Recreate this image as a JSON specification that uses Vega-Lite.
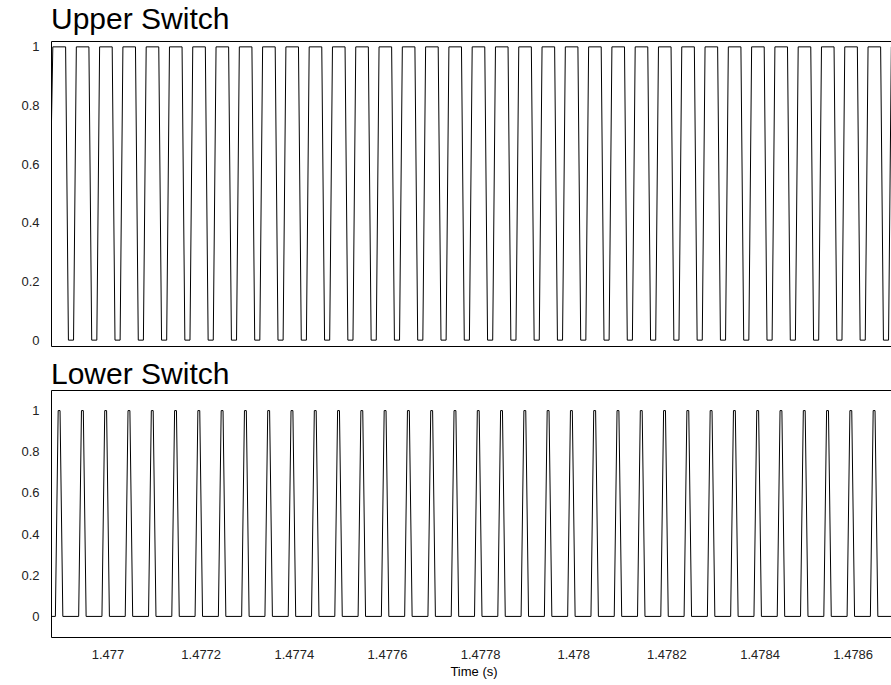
{
"$schema": "https://vega.github.io/schema/vega-lite/v6.json",
"padding": {"left": 5, "top": 4, "right": 0, "bottom": 0},
"spacing": 11,
"config": {
"font": "Liberation Sans",
"view": {"stroke": "#000", "strokeWidth": 1},
"title": {"fontSize": 30, "fontWeight": "normal", "anchor": "start", "frame": "group", "color": "#000", "font": "Liberation Sans", "baseline": "alphabetic"},
"axis": {"grid": false, "domain": false, "ticks": false, "labelFontSize": 13, "labelColor": "#222", "labelPadding": 12, "titleFontWeight": "normal", "titleFontSize": 13, "titleColor": "#000", "labelFont": "Liberation Sans", "titleFont": "Liberation Sans"}
},
"datasets": {
"upper": [
{"t":1.4768786,"v":0.65},{"t":1.4768825,"v":1},
{"t":1.476910,"v":1},{"t":1.476916,"v":0},{"t":1.476927,"v":0},{"t":1.476933,"v":1},
{"t":1.476960,"v":1},{"t":1.476966,"v":0},{"t":1.476977,"v":0},{"t":1.476983,"v":1},
{"t":1.477010,"v":1},{"t":1.477016,"v":0},{"t":1.477027,"v":0},{"t":1.477033,"v":1},
{"t":1.477060,"v":1},{"t":1.477066,"v":0},{"t":1.477077,"v":0},{"t":1.477083,"v":1},
{"t":1.477110,"v":1},{"t":1.477116,"v":0},{"t":1.477127,"v":0},{"t":1.477133,"v":1},
{"t":1.477160,"v":1},{"t":1.477166,"v":0},{"t":1.477177,"v":0},{"t":1.477183,"v":1},
{"t":1.477210,"v":1},{"t":1.477216,"v":0},{"t":1.477227,"v":0},{"t":1.477233,"v":1},
{"t":1.477260,"v":1},{"t":1.477266,"v":0},{"t":1.477277,"v":0},{"t":1.477283,"v":1},
{"t":1.477310,"v":1},{"t":1.477316,"v":0},{"t":1.477327,"v":0},{"t":1.477333,"v":1},
{"t":1.477360,"v":1},{"t":1.477366,"v":0},{"t":1.477377,"v":0},{"t":1.477383,"v":1},
{"t":1.477410,"v":1},{"t":1.477416,"v":0},{"t":1.477427,"v":0},{"t":1.477433,"v":1},
{"t":1.477460,"v":1},{"t":1.477466,"v":0},{"t":1.477477,"v":0},{"t":1.477483,"v":1},
{"t":1.477510,"v":1},{"t":1.477516,"v":0},{"t":1.477527,"v":0},{"t":1.477533,"v":1},
{"t":1.477560,"v":1},{"t":1.477566,"v":0},{"t":1.477577,"v":0},{"t":1.477583,"v":1},
{"t":1.477610,"v":1},{"t":1.477616,"v":0},{"t":1.477627,"v":0},{"t":1.477633,"v":1},
{"t":1.477660,"v":1},{"t":1.477666,"v":0},{"t":1.477677,"v":0},{"t":1.477683,"v":1},
{"t":1.477710,"v":1},{"t":1.477716,"v":0},{"t":1.477727,"v":0},{"t":1.477733,"v":1},
{"t":1.477760,"v":1},{"t":1.477766,"v":0},{"t":1.477777,"v":0},{"t":1.477783,"v":1},
{"t":1.477810,"v":1},{"t":1.477816,"v":0},{"t":1.477827,"v":0},{"t":1.477833,"v":1},
{"t":1.477860,"v":1},{"t":1.477866,"v":0},{"t":1.477877,"v":0},{"t":1.477883,"v":1},
{"t":1.477910,"v":1},{"t":1.477916,"v":0},{"t":1.477927,"v":0},{"t":1.477933,"v":1},
{"t":1.477960,"v":1},{"t":1.477966,"v":0},{"t":1.477977,"v":0},{"t":1.477983,"v":1},
{"t":1.478010,"v":1},{"t":1.478016,"v":0},{"t":1.478027,"v":0},{"t":1.478033,"v":1},
{"t":1.478060,"v":1},{"t":1.478066,"v":0},{"t":1.478077,"v":0},{"t":1.478083,"v":1},
{"t":1.478110,"v":1},{"t":1.478116,"v":0},{"t":1.478127,"v":0},{"t":1.478133,"v":1},
{"t":1.478160,"v":1},{"t":1.478166,"v":0},{"t":1.478177,"v":0},{"t":1.478183,"v":1},
{"t":1.478210,"v":1},{"t":1.478216,"v":0},{"t":1.478227,"v":0},{"t":1.478233,"v":1},
{"t":1.478260,"v":1},{"t":1.478266,"v":0},{"t":1.478277,"v":0},{"t":1.478283,"v":1},
{"t":1.478310,"v":1},{"t":1.478316,"v":0},{"t":1.478327,"v":0},{"t":1.478333,"v":1},
{"t":1.478360,"v":1},{"t":1.478366,"v":0},{"t":1.478377,"v":0},{"t":1.478383,"v":1},
{"t":1.478410,"v":1},{"t":1.478416,"v":0},{"t":1.478427,"v":0},{"t":1.478433,"v":1},
{"t":1.478460,"v":1},{"t":1.478466,"v":0},{"t":1.478477,"v":0},{"t":1.478483,"v":1},
{"t":1.478510,"v":1},{"t":1.478516,"v":0},{"t":1.478527,"v":0},{"t":1.478533,"v":1},
{"t":1.478560,"v":1},{"t":1.478566,"v":0},{"t":1.478577,"v":0},{"t":1.478583,"v":1},
{"t":1.478610,"v":1},{"t":1.478616,"v":0},{"t":1.478627,"v":0},{"t":1.478633,"v":1},
{"t":1.478660,"v":1},{"t":1.478666,"v":0},{"t":1.478677,"v":0},{"t":1.478683,"v":1},
{"t":1.478710,"v":1}
],
"lower": [
{"t":1.4768786,"v":0},
{"t":1.476888,"v":0},{"t":1.476894,"v":1},{"t":1.476898,"v":1},{"t":1.476904,"v":0},
{"t":1.476938,"v":0},{"t":1.476944,"v":1},{"t":1.476948,"v":1},{"t":1.476954,"v":0},
{"t":1.476988,"v":0},{"t":1.476994,"v":1},{"t":1.476998,"v":1},{"t":1.477004,"v":0},
{"t":1.477038,"v":0},{"t":1.477044,"v":1},{"t":1.477048,"v":1},{"t":1.477054,"v":0},
{"t":1.477088,"v":0},{"t":1.477094,"v":1},{"t":1.477098,"v":1},{"t":1.477104,"v":0},
{"t":1.477138,"v":0},{"t":1.477144,"v":1},{"t":1.477148,"v":1},{"t":1.477154,"v":0},
{"t":1.477188,"v":0},{"t":1.477194,"v":1},{"t":1.477198,"v":1},{"t":1.477204,"v":0},
{"t":1.477238,"v":0},{"t":1.477244,"v":1},{"t":1.477248,"v":1},{"t":1.477254,"v":0},
{"t":1.477288,"v":0},{"t":1.477294,"v":1},{"t":1.477298,"v":1},{"t":1.477304,"v":0},
{"t":1.477338,"v":0},{"t":1.477344,"v":1},{"t":1.477348,"v":1},{"t":1.477354,"v":0},
{"t":1.477388,"v":0},{"t":1.477394,"v":1},{"t":1.477398,"v":1},{"t":1.477404,"v":0},
{"t":1.477438,"v":0},{"t":1.477444,"v":1},{"t":1.477448,"v":1},{"t":1.477454,"v":0},
{"t":1.477488,"v":0},{"t":1.477494,"v":1},{"t":1.477498,"v":1},{"t":1.477504,"v":0},
{"t":1.477538,"v":0},{"t":1.477544,"v":1},{"t":1.477548,"v":1},{"t":1.477554,"v":0},
{"t":1.477588,"v":0},{"t":1.477594,"v":1},{"t":1.477598,"v":1},{"t":1.477604,"v":0},
{"t":1.477638,"v":0},{"t":1.477644,"v":1},{"t":1.477648,"v":1},{"t":1.477654,"v":0},
{"t":1.477688,"v":0},{"t":1.477694,"v":1},{"t":1.477698,"v":1},{"t":1.477704,"v":0},
{"t":1.477738,"v":0},{"t":1.477744,"v":1},{"t":1.477748,"v":1},{"t":1.477754,"v":0},
{"t":1.477788,"v":0},{"t":1.477794,"v":1},{"t":1.477798,"v":1},{"t":1.477804,"v":0},
{"t":1.477838,"v":0},{"t":1.477844,"v":1},{"t":1.477848,"v":1},{"t":1.477854,"v":0},
{"t":1.477888,"v":0},{"t":1.477894,"v":1},{"t":1.477898,"v":1},{"t":1.477904,"v":0},
{"t":1.477938,"v":0},{"t":1.477944,"v":1},{"t":1.477948,"v":1},{"t":1.477954,"v":0},
{"t":1.477988,"v":0},{"t":1.477994,"v":1},{"t":1.477998,"v":1},{"t":1.478004,"v":0},
{"t":1.478038,"v":0},{"t":1.478044,"v":1},{"t":1.478048,"v":1},{"t":1.478054,"v":0},
{"t":1.478088,"v":0},{"t":1.478094,"v":1},{"t":1.478098,"v":1},{"t":1.478104,"v":0},
{"t":1.478138,"v":0},{"t":1.478144,"v":1},{"t":1.478148,"v":1},{"t":1.478154,"v":0},
{"t":1.478188,"v":0},{"t":1.478194,"v":1},{"t":1.478198,"v":1},{"t":1.478204,"v":0},
{"t":1.478238,"v":0},{"t":1.478244,"v":1},{"t":1.478248,"v":1},{"t":1.478254,"v":0},
{"t":1.478288,"v":0},{"t":1.478294,"v":1},{"t":1.478298,"v":1},{"t":1.478304,"v":0},
{"t":1.478338,"v":0},{"t":1.478344,"v":1},{"t":1.478348,"v":1},{"t":1.478354,"v":0},
{"t":1.478388,"v":0},{"t":1.478394,"v":1},{"t":1.478398,"v":1},{"t":1.478404,"v":0},
{"t":1.478438,"v":0},{"t":1.478444,"v":1},{"t":1.478448,"v":1},{"t":1.478454,"v":0},
{"t":1.478488,"v":0},{"t":1.478494,"v":1},{"t":1.478498,"v":1},{"t":1.478504,"v":0},
{"t":1.478538,"v":0},{"t":1.478544,"v":1},{"t":1.478548,"v":1},{"t":1.478554,"v":0},
{"t":1.478588,"v":0},{"t":1.478594,"v":1},{"t":1.478598,"v":1},{"t":1.478604,"v":0},
{"t":1.478638,"v":0},{"t":1.478644,"v":1},{"t":1.478648,"v":1},{"t":1.478654,"v":0},
{"t":1.478688,"v":0},{"t":1.478694,"v":1},{"t":1.478698,"v":1},{"t":1.478704,"v":0}
]
},
"vconcat": [
{
"title": {"text": "Upper Switch", "offset": 6},
"width": 845, "height": 305,
"data": {"name": "upper"},
"mark": {"type": "line", "clip": true, "color": "#000", "strokeWidth": 1},
"encoding": {
"x": {"field": "t", "type": "quantitative", "scale": {"domain": [1.4768786, 1.478693], "nice": false, "zero": false}, "axis": null},
"y": {"field": "v", "type": "quantitative", "scale": {"domain": [-0.02, 1.02], "nice": false}, "axis": {"values": [0, 0.2, 0.4, 0.6, 0.8, 1], "format": ".1~f", "title": null, "minExtent": 45, "maxExtent": 45}}
}
},
{
"title": {"text": "Lower Switch", "offset": 0},
"width": 845, "height": 247,
"data": {"name": "lower"},
"mark": {"type": "line", "clip": true, "color": "#000", "strokeWidth": 1},
"encoding": {
"x": {"field": "t", "type": "quantitative", "scale": {"domain": [1.4768786, 1.478693], "nice": false, "zero": false}, "axis": {"values": [1.477, 1.4772, 1.4774, 1.4776, 1.4778, 1.478, 1.4782, 1.4784, 1.4786], "format": ".4~f", "title": "Time (s)", "labelPadding": 11, "titlePadding": 4}},
"y": {"field": "v", "type": "quantitative", "scale": {"domain": [-0.1, 1.1], "nice": false}, "axis": {"values": [0, 0.2, 0.4, 0.6, 0.8, 1], "format": ".1~f", "title": null, "minExtent": 45, "maxExtent": 45}}
}
}
]
}
